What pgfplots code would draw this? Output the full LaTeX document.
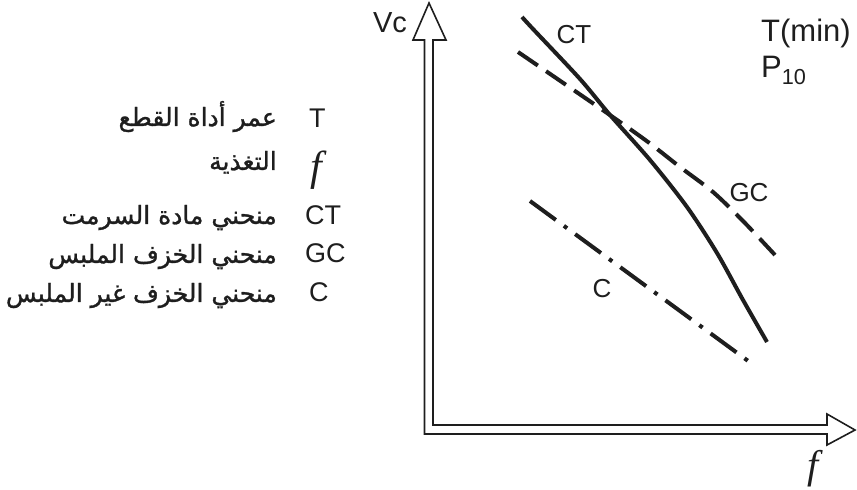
\documentclass[border=0pt]{standalone}
\usepackage{fontspec}
\usepackage{pgfplots}
\pgfplotsset{compat=1.18}
\setmainfont{Liberation Sans}
\newfontfamily\arabicfont[Script=Arabic, FakeBold=1.2]{DejaVu Sans}
\newfontfamily\seriffont{Liberation Serif}
\TeXXeTstate=1
\definecolor{ink}{HTML}{1E1E1E}
\begin{document}
\begin{tikzpicture}
\begin{axis}[width=857pt,height=490pt,scale only axis,xmin=0,xmax=857,ymin=0,ymax=490,hide axis,clip=false]
\path (axis cs:0,0) rectangle (axis cs:857,490);
% axes drawn as hollow double arrows
\draw[line width=1.6pt, ink, line join=miter, fill=white]
 (axis cs:424.5,450) -- (axis cs:424.5,56) -- (axis cs:827,56) -- (axis cs:827,45)
 -- (axis cs:855,60) -- (axis cs:827,76) -- (axis cs:827,65) -- (axis cs:433,65)
 -- (axis cs:433,450) -- (axis cs:446,450) -- (axis cs:429,487) -- (axis cs:413,450) -- cycle;
% curves
\addplot[ink, line width=4pt, smooth] coordinates {
 (522,473) (533,461) (580,411) (610,375) (650,330) (687,283) (717,237) (743,190) (767,148)};
\addplot[ink, line width=4pt, smooth, dash pattern=on 24pt off 10pt] coordinates {
 (518,438) (607,377) (648,348) (680,323) (713,298) (743,269) (775,235)};
\addplot[ink, line width=4pt, dash pattern=on 32pt off 10pt on 4pt off 10pt] coordinates {
 (530,289) (755,124)};
% labels on chart
\node[ink, font=\fontsize{29}{32}\selectfont] at (axis cs:390,467) {Vc};
\node[ink, font=\fontsize{26}{30}\selectfont] at (axis cs:574,455) {CT};
\node[ink, font=\fontsize{26}{30}\selectfont] at (axis cs:749,297) {GC};
\node[ink, font=\fontsize{26}{30}\selectfont] at (axis cs:602,201) {C};
\node[ink, font=\fontsize{31}{33}\selectfont, anchor=base west, inner sep=0pt] at (axis cs:761,448) {T(min)};
\node[ink, font=\fontsize{31}{33}\selectfont, anchor=base west, inner sep=0pt] at (axis cs:761,412) {P$_{\mathrm{10}}$};
\node[ink, font=\seriffont\itshape\fontsize{40}{42}\selectfont, anchor=base, inner sep=0pt] at (axis cs:813,11) {f};
% legend
\node[ink, font=\fontsize{27}{30}\selectfont, anchor=base west, inner sep=0pt] at (axis cs:309,362) {T};
\node[ink, font=\seriffont\itshape\fontsize{42}{44}\selectfont, anchor=base west, inner sep=0pt] at (axis cs:310,309) {f};
\node[ink, font=\fontsize{27}{30}\selectfont, anchor=base west, inner sep=0pt] at (axis cs:305,265) {CT};
\node[ink, font=\fontsize{27}{30}\selectfont, anchor=base west, inner sep=0pt] at (axis cs:305,227) {GC};
\node[ink, font=\fontsize{27}{30}\selectfont, anchor=base west, inner sep=0pt] at (axis cs:309,188) {C};
\node[ink, font=\arabicfont\fontsize{25}{28}\selectfont, anchor=base east, inner sep=0pt] at (axis cs:277,364) {\beginR عمر أداة القطع\endR};
\node[ink, font=\arabicfont\fontsize{25}{28}\selectfont, anchor=base east, inner sep=0pt] at (axis cs:277,320) {\beginR التغذية\endR};
\node[ink, font=\arabicfont\fontsize{25}{28}\selectfont, anchor=base east, inner sep=0pt] at (axis cs:277,266) {\beginR منحني مادة السرمت\endR};
\node[ink, font=\arabicfont\fontsize{25}{28}\selectfont, anchor=base east, inner sep=0pt] at (axis cs:277,227) {\beginR منحني الخزف الملبس\endR};
\node[ink, font=\arabicfont\fontsize{25}{28}\selectfont, anchor=base east, inner sep=0pt] at (axis cs:277,188) {\beginR منحني الخزف غير الملبس\endR};
\end{axis}
\end{tikzpicture}
\end{document}
